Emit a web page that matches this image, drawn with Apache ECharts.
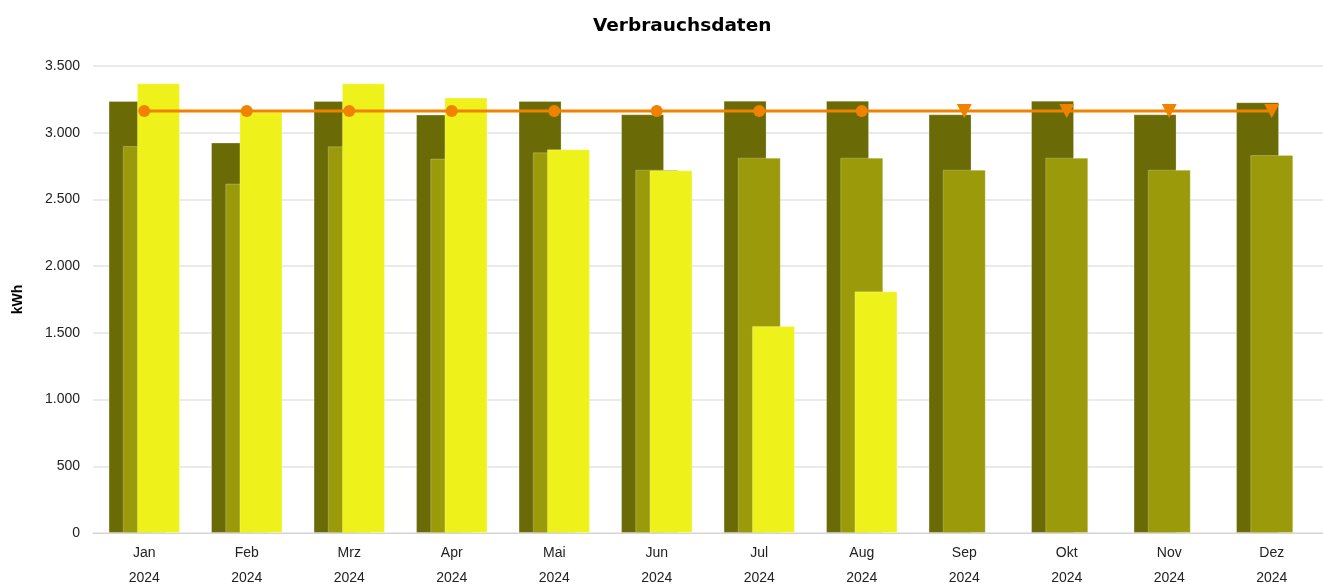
<!DOCTYPE html>
<html>
<head>
<meta charset="utf-8">
<script src="https://cdn.jsdelivr.net/npm/echarts@6/dist/echarts.min.js"></script>
<style>html,body{margin:0;padding:0;background:#fff;overflow:hidden;}#c{width:1323px;height:586px;}</style>
</head>
<body>
<div id="c"></div>
<script>
var months = ['Jan','Feb','Mrz','Apr','Mai','Jun','Jul','Aug','Sep','Okt','Nov','Dez'];
var year = '2024';
var darkValues = [3238, 2926, 3238, 3136, 3238, 3138, 3240, 3240, 3138, 3240, 3138, 3228];
var midValues = [2900, 2619, 2898, 2806, 2853, 2723, 2813, 2813, 2723, 2813, 2723, 2833];
var actualValues = [3370, 3155, 3370, 3263, 2876, 2718, 1551, 1811, null, null, null, null];
var lineValues = [3163, 3163, 3163, 3163, 3163, 3163, 3163, 3163, 3163, 3163, 3163, 3163];
var forecastFrom = 8; // index where marker changes to triangle
var yTicks = { min: 0, max: 3500, interval: 500 };

function fmt(v){ return String(v).replace(/\B(?=(\d{3})+(?!\d))/g, '.'); }

var lineData = lineValues.map(function(v, i){
  if (i >= forecastFrom) return { value: v, symbol: 'triangle', symbolRotate: 180, symbolSize: [15, 14] };
  return { value: v, symbol: 'circle', symbolSize: 12 };
});

var chart = echarts.init(document.getElementById('c'), null, {renderer: 'canvas'});
var barBorder = { borderColor: 'rgba(255,255,255,0.25)', borderWidth: 1 };
chart.setOption({
  animation: false,
  backgroundColor: '#fff',
  title: {
    text: 'Verbrauchsdaten', left: 588, top: 12,
    textStyle: { fontFamily: 'DejaVu Sans', fontWeight: 'bold', fontSize: 18.5, color: '#000' }
  },
  grid: { left: 93, right: 0, top: 66, bottom: 53, containLabel: false, outerBoundsMode: 'none' },
  xAxis: {
    type: 'category',
    data: months,
    axisLine: { lineStyle: { color: '#d4d4d4', width: 1 } },
    axisTick: { alignWithLabel: true, length: 8, lineStyle: { color: '#d4d4d4' } },
    axisLabel: {
      formatter: function(v){ return v + '\n' + year; },
      fontFamily: 'Liberation Sans', fontSize: 14, color: '#222', lineHeight: 25, margin: 8
    }
  },
  yAxis: {
    type: 'value', min: yTicks.min, max: yTicks.max, interval: yTicks.interval,
    name: 'kWh', nameLocation: 'middle', nameGap: 68, nameRotate: 90,
    nameTextStyle: { fontFamily: 'Liberation Sans', fontWeight: 'bold', fontSize: 14, color: '#000' },
    axisLine: { show: false }, axisTick: { show: false },
    axisLabel: { formatter: fmt, fontFamily: 'Liberation Sans', fontSize: 14, color: '#222', margin: 13 },
    splitLine: { lineStyle: { color: '#e3e3e3', width: 1.5 } }
  },
  series: [
    { type: 'bar', data: darkValues, barWidth: 43, barGap: '-67%',
      itemStyle: Object.assign({ color: '#6a6a06' }, barBorder), z: 1 },
    { type: 'bar', data: midValues, barWidth: 43, barGap: '-67%',
      itemStyle: Object.assign({ color: '#9a9a0b' }, barBorder), z: 2 },
    { type: 'bar', data: actualValues, barWidth: 43, barGap: '-67%',
      itemStyle: Object.assign({ color: '#eef21a' }, barBorder), z: 3 },
    { type: 'line', data: lineData, z: 5,
      lineStyle: { color: '#f08200', width: 3 },
      itemStyle: { color: '#f08200', borderWidth: 0 },
      showAllSymbol: true }
  ]
});
</script>
</body>
</html>
